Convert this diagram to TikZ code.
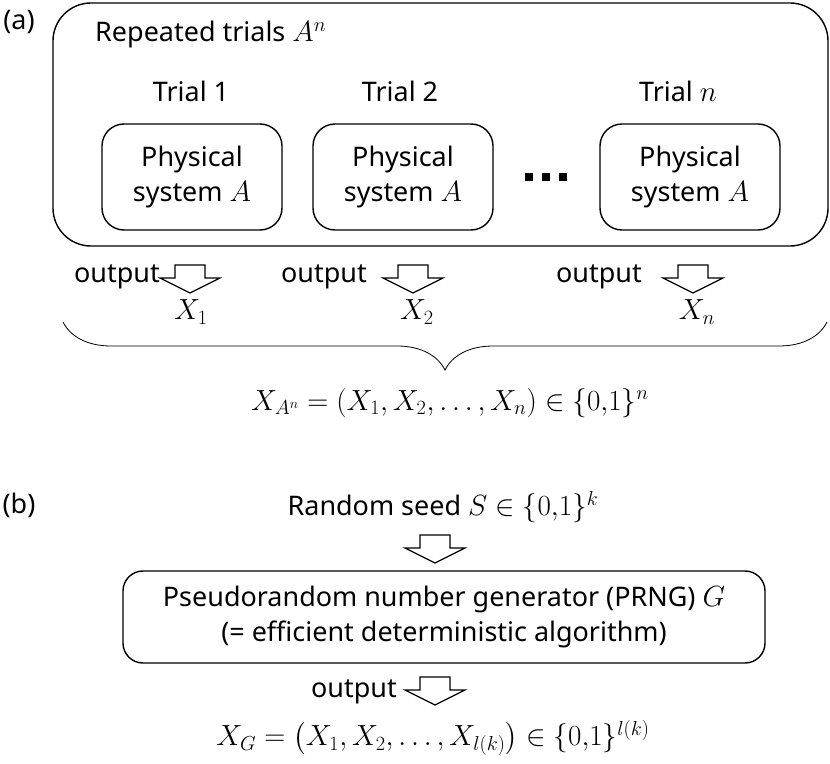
\documentclass[tikz,border=0pt]{standalone}
\usepackage{fontspec}
\setmainfont{Noto Sans}
\usepackage{amsmath}
\usepackage{amssymb}
\usetikzlibrary{positioning, calc, decorations.pathreplacing}

% hollow block arrow, drawn downwards from its top edge
\tikzset{
    outarrow/.pic={
        \draw[line width=1pt, fill=white, line join=miter]
            (-15,0) -- (15,0) -- (15,13) -- (30,13) -- (0,28)
            -- (-30,13) -- (-15,13) -- cycle;
    }
}

\begin{document}
\begin{tikzpicture}[x=0.03cm, y=-0.03cm,
    every node/.style={font=\fontsize{23}{30}\selectfont},
    sysbox/.style={draw, line width=1.2pt, rounded corners=0.66cm, minimum width=5.4cm,
                   minimum height=3.18cm, align=center, inner sep=0pt},
    lbl/.style={anchor=base},
    outlbl/.style={anchor=base east, inner sep=0pt},
    dot/.style={fill=black, minimum size=0.24cm, inner sep=0pt}
]
    \useasboundingbox (0,0) rectangle (830,764);

    % --- (a) repeated trials ---
    \node (la) at (19,22) {(a)};
    \node[draw, line width=1.2pt, rounded corners=1.14cm, minimum width=23.25cm,
          minimum height=7.29cm] (rep) at (440.5,124.5) {};
    \node[anchor=base west, inner sep=0pt] (reptxt) at (95,42) {Repeated trials $A^n$};

    \node[sysbox] (sys1) at (192,177) {Physical\\system $A$};
    \node[sysbox] (sys2) at (403,177) {Physical\\system $A$};
    \node[sysbox] (sys3) at (690,177) {Physical\\system $A$};
    \node[lbl] (t1) at (191,102) {Trial 1};
    \node[lbl] (t2) at (400,102) {Trial 2};
    \node[lbl] (t3) at (678,102) {Trial $n$};

    \node[dot] (d1) at (529,177) {};
    \node[dot] (d2) at (546,177) {};
    \node[dot] (d3) at (563,177) {};

    % --- outputs ---
    \pic (a1) at (190,265) {outarrow};
    \pic (a2) at (413,265) {outarrow};
    \pic (a3) at (693,265) {outarrow};
    \node[outlbl] (o1) at (160,283) {output};
    \node[outlbl] (o2) at (367,283) {output};
    \node[outlbl] (o3) at (642,283) {output};
    \node (x1) at (191,312) {$X_1$};
    \node (x2) at (417,312) {$X_2$};
    \node (xn) at (697,312) {$X_n$};

    \coordinate (bl) at (63,322);
    \coordinate (br) at (827,322);
    \draw[decorate, decoration={brace, mirror, amplitude=1.44cm}, line width=0.7pt] (bl) -- (br);
    \node (xa) at (450,403) {$X_{A^n} = (X_1, X_2, \dots, X_n) \in \{0{,}1\}^n$};

    % --- (b) PRNG ---
    \node (lb) at (19,505) {(b)};
    \node (seed) at (443,507) {Random seed $S \in \{0{,}1\}^k$};
    \pic (a4) at (435,535) {outarrow};
    \node[draw, line width=1.2pt, rounded corners=0.6cm, minimum width=19.26cm,
          minimum height=2.76cm, align=center] (prng) at (444,617)
          {Pseudorandom number generator (PRNG) $G$\\(= efficient deterministic algorithm)};

    \pic (a5) at (435,677) {outarrow};
    \node[outlbl] (o4) at (397,697) {output};
    \node (xg) at (433,738) {$X_G = \bigl(X_1, X_2, \dots, X_{l(k)}\bigr) \in \{0{,}1\}^{l(k)}$};
\end{tikzpicture}
\end{document}
